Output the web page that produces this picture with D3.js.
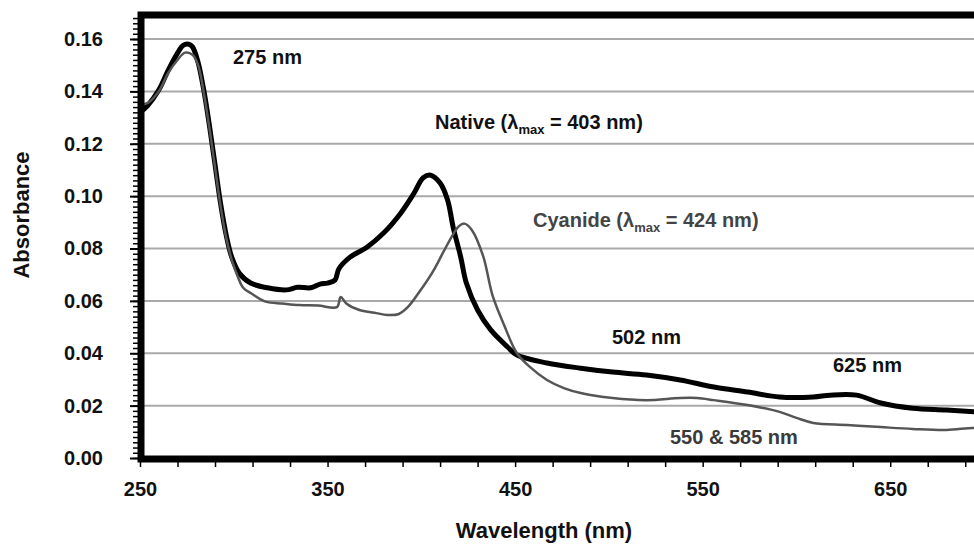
<!DOCTYPE html>
<html>
<head>
<meta charset="utf-8">
<script src="https://cdn.jsdelivr.net/npm/d3@7"></script>
<style>
  html, body { margin: 0; padding: 0; background: #fff; }
  svg { display: block; }
  text { font-family: "Liberation Sans", Arial, sans-serif; font-weight: bold; }
</style>
</head>
<body>
<svg id="chart" width="974" height="545"></svg>
<script>
// ---- data ----
const nativeWavelength = [250,254,260,265,270,273,276,278,281,284,287,290,293,296,299,303,309,318,328,334,341,346,350,354,356,362,371,380,389,396,401,405,410,414,417,421,424,430,437,446,451,467,485,502,520,538,556,574,591,609,618,632,645,662,680,700];
const nativeAbsorbance = [0.132,0.1345,0.1405,0.148,0.1546,0.1576,0.158,0.157,0.151,0.1405,0.127,0.112,0.097,0.085,0.0765,0.0705,0.0668,0.065,0.0642,0.0652,0.065,0.0664,0.0668,0.068,0.0722,0.0767,0.0805,0.086,0.0935,0.101,0.107,0.108,0.105,0.0985,0.088,0.0767,0.0668,0.0565,0.0489,0.0424,0.0393,0.0363,0.0343,0.0328,0.0317,0.0298,0.0271,0.0252,0.0233,0.0233,0.024,0.024,0.021,0.019,0.0183,0.0174];

const cyanideWavelength = [250,254,260,265,270,274,278,281,284,287,290,293,296,299,302,305,309,317,326,335,345,355,357,360,367,375,382,388,393,399,406,412,417,420,423,427,433,438,444,451,458,467,476,485,502,520,538,547,556,574,591,600,609,627,645,662,680,694,700];
const cyanideAbsorbance = [0.135,0.1355,0.14,0.147,0.152,0.1548,0.154,0.15,0.1395,0.126,0.111,0.096,0.084,0.0755,0.0695,0.065,0.063,0.0597,0.059,0.0584,0.0582,0.0576,0.0615,0.059,0.0565,0.0555,0.0546,0.055,0.0578,0.0635,0.071,0.079,0.0855,0.0885,0.0895,0.087,0.077,0.062,0.051,0.04,0.0347,0.0298,0.0267,0.0248,0.0229,0.0221,0.0229,0.0229,0.0221,0.0202,0.0176,0.0153,0.0134,0.0126,0.0118,0.0111,0.0107,0.0115,0.0113];

const yTickValues = [0, 0.02, 0.04, 0.06, 0.08, 0.10, 0.12, 0.14, 0.16];
const xTickLabels = [250, 350, 450, 550, 650];

// ---- layout ----
const svg = d3.select("#chart");
const x = d3.scaleLinear().domain([250, 700]).range([140, 984]);
const y = d3.scaleLinear().domain([0, 0.16]).range([458, 39]);
const frameTop = 15;

// gridlines
svg.append("g").selectAll("line")
  .data(yTickValues.filter(d => d > 0))
  .join("line")
  .attr("x1", x(250)).attr("x2", 974)
  .attr("y1", d => y(d)).attr("y2", d => y(d))
  .attr("stroke", "#a9a9a9").attr("stroke-width", 2);

// minor y ticks
const yMinor = d3.range(0, 0.1681, 0.002);
svg.append("g")
  .attr("transform", `translate(${x(250) - 2},0)`)
  .call(d3.axisLeft(y).tickValues(yMinor).tickSize(5).tickFormat(""))
  .call(g => g.select(".domain").remove())
  .call(g => g.selectAll("line").attr("stroke", "#000").attr("stroke-width", 1.5));

// major y ticks + labels
svg.append("g")
  .attr("transform", `translate(${x(250) - 2},0)`)
  .call(d3.axisLeft(y).tickValues(yTickValues).tickSize(8).tickPadding(27).tickFormat(d3.format(".2f")))
  .call(g => g.select(".domain").remove())
  .call(g => g.selectAll("line").attr("stroke", "#000").attr("stroke-width", 2))
  .call(g => g.selectAll("text").attr("font-size", 20).attr("fill", "#111")
     .style("font-family", "'Liberation Sans', Arial, sans-serif").style("font-weight", "bold"));

// x minor ticks
svg.append("g")
  .attr("transform", `translate(0,${y(0) + 3})`)
  .call(d3.axisBottom(x).tickValues(d3.range(250, 700, 20)).tickSize(6).tickFormat(""))
  .call(g => g.select(".domain").remove())
  .call(g => g.selectAll("line").attr("stroke", "#000").attr("stroke-width", 1.5));

// x labels
svg.append("g")
  .attr("transform", `translate(0,${y(0) + 3})`)
  .call(d3.axisBottom(x).tickValues(xTickLabels).tickSize(0).tickPadding(21).tickFormat(d3.format("d")))
  .call(g => g.select(".domain").remove())
  .call(g => g.selectAll("text").attr("font-size", 20).attr("fill", "#111")
     .style("font-family", "'Liberation Sans', Arial, sans-serif").style("font-weight", "bold"));

// curves
const line = d3.line().x(d => x(d[0])).y(d => y(d[1])).curve(d3.curveCatmullRom.alpha(0.5));
const nativeData = nativeWavelength.map((w, i) => [w, nativeAbsorbance[i]]);
const cyanideData = cyanideWavelength.map((w, i) => [w, cyanideAbsorbance[i]]);

svg.append("clipPath").attr("id", "plotclip")
  .append("rect").attr("x", x(250)).attr("y", frameTop).attr("width", 974 - x(250)).attr("height", y(0) - frameTop);

const plot = svg.append("g").attr("clip-path", "url(#plotclip)");
plot.append("path").datum(nativeData).attr("d", line)
  .attr("fill", "none").attr("stroke", "#000").attr("stroke-width", 5).attr("stroke-linejoin", "round");
plot.append("path").datum(cyanideData).attr("d", line)
  .attr("fill", "none").attr("stroke", "#555").attr("stroke-width", 2.5).attr("stroke-linejoin", "round");

// frame
svg.append("path")
  .attr("d", `M${x(700)},${frameTop} H${x(250) + 1} V${y(0) + 1} H${x(700)}`)
  .attr("fill", "none").attr("stroke", "#000").attr("stroke-width", 7);

// axis titles
svg.append("text").attr("x", 544).attr("y", 538).attr("text-anchor", "middle")
  .attr("font-size", 22).attr("fill", "#111").text("Wavelength (nm)");
svg.append("text").attr("transform", "translate(29,215) rotate(-90)").attr("text-anchor", "middle")
  .attr("font-size", 22).attr("fill", "#111").text("Absorbance");

// annotations
function label(xp, yp, color, txt) {
  return svg.append("text").attr("x", xp).attr("y", yp).attr("font-size", 20).attr("fill", color).text(txt);
}
label(233, 64, "#111", "275 nm");
const n = svg.append("text").attr("x", 435).attr("y", 129).attr("font-size", 20).attr("fill", "#111");
n.append("tspan").text("Native (λ");
n.append("tspan").attr("font-size", 13).attr("dy", 5).text("max");
n.append("tspan").attr("dy", -5).text(" = 403 nm)");
const c = svg.append("text").attr("x", 533).attr("y", 227).attr("font-size", 20).attr("fill", "#444");
c.append("tspan").text("Cyanide (λ");
c.append("tspan").attr("font-size", 13).attr("dy", 5).text("max");
c.append("tspan").attr("dy", -5).text(" = 424 nm)");
label(612, 344, "#111", "502 nm");
label(833, 372, "#111", "625 nm");
label(670, 444, "#3a3a3a", "550 & 585 nm");
</script>
</body>
</html>
